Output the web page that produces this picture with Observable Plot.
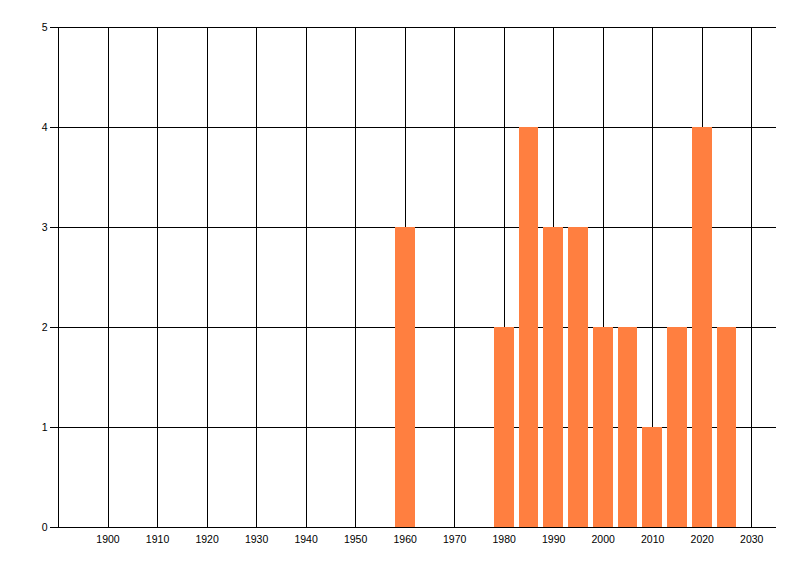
<!DOCTYPE html>
<html>
<head>
<meta charset="utf-8">
<script src="https://cdn.jsdelivr.net/npm/d3@7"></script>
<script src="https://cdn.jsdelivr.net/npm/@observablehq/plot@0.6"></script>
<style>
  body { margin: 0; background: #fff; }
  #chart svg { display: block; }
  #chart svg line, #chart svg rect, #chart svg path { shape-rendering: crispEdges; }
</style>
</head>
<body>
<div id="chart"></div>
<script>
// bar years and counts
const years  = [1960, 1980, 1985, 1990, 1995, 2000, 2005, 2010, 2015, 2020, 2025]
const counts = [3, 2, 4, 3, 3, 2, 2, 1, 2, 4, 2]
const xTicks = [1900, 1910, 1920, 1930, 1940, 1950, 1960, 1970, 1980, 1990, 2000, 2010, 2020, 2030]
const yTicks = [0, 1, 2, 3, 4, 5]

const data = years.map((y, i) => ({year: y, count: counts[i]}))

let chart = Plot.plot({
  width: 800,
  height: 576,
  marginTop: 27,
  marginLeft: 58,
  marginRight: 24,
  marginBottom: 49,
  style: {fontFamily: 'Liberation Sans, Arial, sans-serif', fontSize: '10.5px', color: '#000', background: '#fff'},
  x: {domain: [1890, 2035]},
  y: {domain: [0, 5]},
  marks: [
    Plot.ruleX(xTicks, {stroke: '#000', strokeWidth: 1}),
    Plot.ruleX([1890], {stroke: '#000', strokeWidth: 1}),
    Plot.ruleY(yTicks.slice(1), {stroke: '#000', strokeWidth: 1}),
    Plot.rectY(data, {
      x1: d => d.year - 2,
      x2: d => d.year + 2,
      y: 'count',
      fill: '#ff7f40'
    }),
    Plot.ruleY([0], {stroke: '#000', strokeWidth: 1}),
    Plot.axisY({ticks: yTicks, tickSize: 8, tickPadding: 3, label: null, tickFormat: d => d}),
    Plot.axisX({ticks: xTicks, tickSize: 0, tickPadding: 8, label: null, tickFormat: d => String(d)})
  ]
})

d3.select('#chart').append(() => chart)
</script>
</body>
</html>
